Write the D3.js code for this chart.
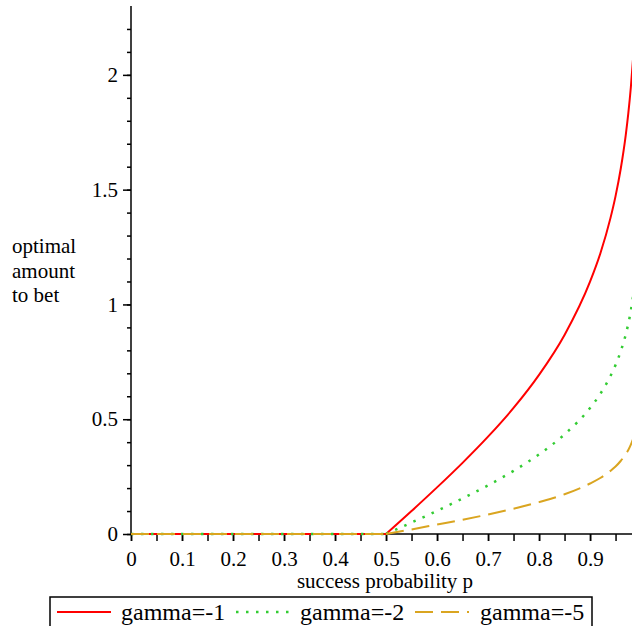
<!DOCTYPE html>
<html>
<head>
<meta charset="utf-8">
<script src="https://cdn.jsdelivr.net/npm/d3@7.9.0/dist/d3.min.js"></script>
<style>
  body { margin: 0; background: #fff; }
  svg { display: block; }
  svg text { font-family: 'Liberation Serif', 'Times New Roman', Times, serif; fill: #000; }
  .axis path, .axis line { stroke: #000; stroke-width: 1.5; }
  .axis text { font-size: 21px; }
</style>
</head>
<body>
<svg id="chart" width="632" height="626"></svg>
<script>
// values (success probability p, amount)
const probs = [0, 0.5, 0.55, 0.6, 0.65, 0.7, 0.75, 0.8, 0.85, 0.9, 0.92, 0.94, 0.95, 0.96, 0.97, 0.975, 0.98, 0.985];
const gamma1Y = [0, 0, 0.1, 0.203, 0.31, 0.424, 0.549, 0.693, 0.867, 1.099, 1.221, 1.376, 1.472, 1.589, 1.738, 1.832, 1.946, 2.09];
const gamma2Y = [0, 0, 0.05, 0.101, 0.155, 0.212, 0.275, 0.347, 0.434, 0.549, 0.61, 0.688, 0.736, 0.795, 0.869, 0.916, 0.973, 1.045];
const gamma5Y = [0, 0, 0.02, 0.041, 0.062, 0.085, 0.11, 0.139, 0.173, 0.22, 0.244, 0.275, 0.294, 0.318, 0.348, 0.366, 0.389, 0.418];

const seriesNames = ['gamma=-1', 'gamma=-2', 'gamma=-5'];
const seriesColors = ['#ff0000', '#33cc33', '#daa520'];
const seriesDash = [null, '2.5,7.5', '18,8'];

const xLabels = [0, 0.1, 0.2, 0.3, 0.4, 0.5, 0.6, 0.7, 0.8, 0.9];
const yLabels = [0, 0.5, 1, 1.5, 2];

const svg = d3.select('#chart');
const x = d3.scaleLinear().domain([0, 0.985]).range([131, 633.4]);
const y = d3.scaleLinear().domain([0, 2.3]).range([534, 6]);

const series = [gamma1Y, gamma2Y, gamma5Y].map((ys) => probs.map((p, i) => [p, ys[i]]));

// y axis: minor every 0.1, labels every 0.5
svg.append('g')
    .attr('class', 'axis')
    .attr('transform', `translate(${x(0)},0)`)
    .call(d3.axisLeft(y).tickValues(d3.range(0, 2.25, 0.1)).tickSize(4).tickFormat(''))
    .call((g) => g.select('.domain').attr('d', `M0,${y(0)}V${y(2.3)}`));

svg.append('g')
    .attr('class', 'axis')
    .attr('transform', `translate(${x(0)},0)`)
    .call(d3.axisLeft(y).tickValues(yLabels).tickSize(8).tickPadding(5).tickFormat(d3.format('')))
    .call((g) => g.select('.domain').remove());

// x axis: ticks every 0.05, labels every 0.1
svg.append('g')
    .attr('class', 'axis')
    .attr('transform', `translate(0,${y(0)})`)
    .call(d3.axisBottom(x).tickValues(d3.range(0, 0.98, 0.05)).tickSize(7).tickFormat(''))
    .call((g) => g.select('.domain').attr('d', `M${x(0)},0H632`));

svg.append('g')
    .attr('class', 'axis')
    .attr('transform', `translate(0,${y(0)})`)
    .call(d3.axisBottom(x).tickValues(xLabels).tickSize(7).tickPadding(10).tickFormat(d3.format('')))
    .call((g) => g.select('.domain').remove());

const flatLine = d3.line()
    .x((d) => x(d[0]))
    .y((d) => y(d[1]));

const curveLine = d3.line()
    .x((d) => x(d[0]))
    .y((d) => y(d[1]))
    .curve(d3.curveMonotoneX);

series.forEach((data, idx) => {
    svg.append('path')
        .attr('d', flatLine(data.slice(0, 2)) + curveLine(data.slice(1)))
        .attr('fill', 'none')
        .attr('stroke', seriesColors[idx])
        .attr('stroke-width', idx === 1 ? 2.5 : 2)
        .attr('stroke-dasharray', seriesDash[idx]);
});

// axis titles
svg.append('text')
    .attr('x', 385)
    .attr('y', 588)
    .attr('text-anchor', 'middle')
    .attr('font-size', 21)
    .text('success probability p');

svg.append('text')
    .attr('font-size', 21)
    .selectAll('tspan')
    .data(['optimal', 'amount', 'to bet'])
    .join('tspan')
    .attr('x', 12)
    .attr('y', (d, i) => 253 + i * 24.5)
    .text((d) => d);

// legend
const legend = svg.append('g');
legend.append('rect')
    .attr('x', 50)
    .attr('y', 597)
    .attr('width', 542)
    .attr('height', 40)
    .attr('fill', 'none')
    .attr('stroke', '#000')
    .attr('stroke-width', 1.5);

const legendLineX = [57, 236, 415];
const legendTextX = [121, 300, 480];
seriesNames.forEach((name, idx) => {
    legend.append('line')
        .attr('x1', legendLineX[idx])
        .attr('x2', legendLineX[idx] + 54)
        .attr('y1', 612)
        .attr('y2', 612)
        .attr('stroke', seriesColors[idx])
        .attr('stroke-width', idx === 1 ? 2.5 : 2)
        .attr('stroke-dasharray', seriesDash[idx]);
    legend.append('text')
        .attr('x', legendTextX[idx])
        .attr('y', 620)
        .attr('font-size', 24)
        .text(name);
});
</script>
</body>
</html>
